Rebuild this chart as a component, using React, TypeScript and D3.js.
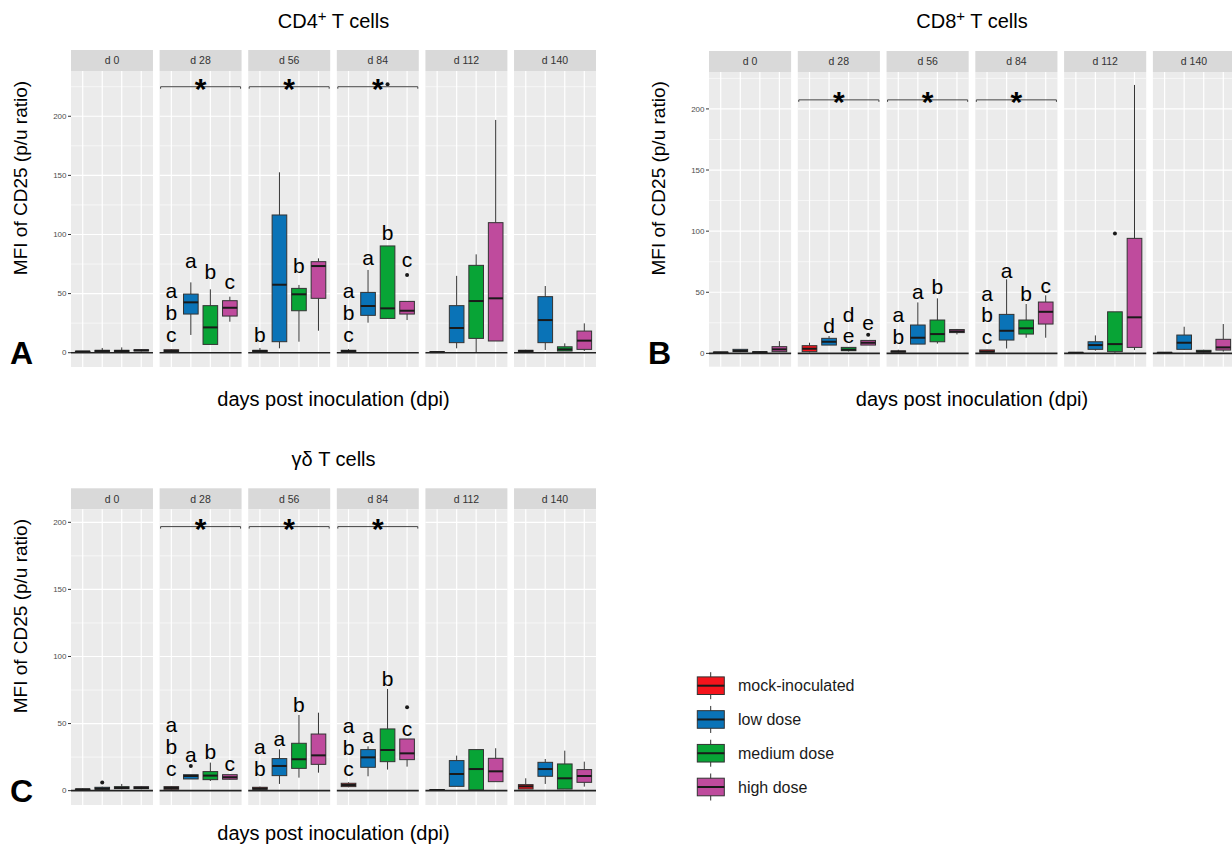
import React from "react";
import * as d3 from "d3";

const width = 1232;
const height = 848;
const font = "Liberation Sans, Arial, sans-serif";

const days = ["d 0", "d 28", "d 56", "d 84", "d 112", "d 140"];
const groups = ["mock-inoculated", "low dose", "medium dose", "high dose"];
const colors = ["#f5141c", "#0a73b7", "#08a436", "#bf4b9d"];
const yTicks = [0, 50, 100, 150, 200];

// [lower whisker, q1, median, q3, upper whisker] per day, per group
const cd4Stats = [
  [[0.5, 0.8, 1, 1.2, 1.5], [0.5, 1, 1.5, 2, 4], [0.5, 1, 1.5, 2, 4.5], [1, 1.5, 2, 2.5, 3]],
  [[0.5, 1, 1.5, 2.5, 3], [15, 32.7, 42.6, 49.6, 59.5], [7, 7, 21.4, 39.8, 53.6], [26.2, 31, 38, 44, 47.4]],
  [[0.5, 1, 1.5, 2, 4], [3.7, 9.3, 57.5, 116.5, 152.6], [9.3, 35.5, 49.4, 54.4, 57.3], [18.6, 46, 73.3, 77, 79.8]],
  [[0.5, 1, 1.5, 2, 3], [25.4, 31.6, 39.5, 51, 70], [29, 29, 37.5, 90.3, 90.3], [27.6, 32.7, 35.5, 43.4, 43.4]],
  [[0, 0.3, 0.5, 0.8, 1], [3.7, 8.5, 20.9, 39.8, 65], [0, 12.1, 43.7, 73.9, 83.2], [9.9, 9.9, 46, 110, 196.9]],
  [[0.5, 1, 1.5, 2, 2.5], [2.3, 8.5, 27.6, 47.4, 56.4], [1.4, 1.4, 2.8, 5, 7.9], [1.4, 2.8, 10.2, 18.3, 24.8]],
];
const cd4Outliers = [[3, 3, 65.7], [3, 2, 227]];
const cd4Letters: [number, number, string, number][] = [
  [1, 0, "a\nb\nc", 9.3], [1, 1, "a", 71.4], [1, 2, "b", 62], [1, 3, "c", 53.6],
  [2, 0, "b", 9.3], [2, 2, "b", 67.1],
  [3, 0, "a\nb\nc", 9.3], [3, 1, "a", 74.2], [3, 2, "b", 95.3], [3, 3, "c", 72.8],
];

const cd8Stats = [
  [[0.3, 0.5, 0.8, 1, 1.2], [1, 1.4, 2, 3.3, 3.5], [0.5, 0.8, 1, 1.2, 1.5], [1, 1.4, 3.3, 5.5, 10]],
  [[0.8, 1.4, 3.8, 6.3, 8.7], [6.8, 6.8, 9.5, 12.3, 14.2], [1.5, 2.2, 3, 4.9, 5.2], [6.8, 6.8, 8.7, 10.6, 10.6]],
  [[0.5, 1, 1.5, 2, 3], [7.6, 7.6, 12.8, 23.2, 41.7], [8, 9.5, 15.8, 27.3, 45], [15.5, 17, 18, 19.5, 20]],
  [[0.5, 1, 1.5, 2.8, 3], [4, 10.9, 18.5, 31.9, 60.6], [12.8, 15.8, 20.5, 27.3, 40.4], [12.8, 24, 34, 42, 47.5]],
  [[0, 0.3, 0.5, 0.8, 1], [2.2, 3.3, 6.8, 9.5, 14.7], [0.5, 1.4, 7.6, 34, 34], [2.7, 4.9, 29.5, 94.1, 219.6]],
  [[0, 0.3, 0.5, 0.8, 1], [2.7, 3.3, 8.7, 15, 21.8], [0.5, 1, 1.5, 2.5, 3], [1.4, 2.7, 4.9, 11.5, 24]],
];
const cd8Outliers = [[1, 3, 15.3], [4, 2, 98]];
const cd8Letters: [number, number, string, number][] = [
  [1, 1, "d", 16.9], [1, 2, "d\ne", 8.2], [1, 3, "e", 19.1],
  [2, 0, "a\nb", 7.6], [2, 1, "a", 44.5], [2, 2, "b", 48.2],
  [3, 0, "a\nb\nc", 7.6], [3, 1, "a", 62], [3, 2, "b", 42.5], [3, 3, "c", 49.1],
];

const gdStats = [
  [[0.5, 0.8, 1, 1.2, 1.5], [0.5, 1, 1.5, 2.5, 3], [1, 1.5, 2, 3, 5], [1, 1.5, 2, 3, 3.5]],
  [[0.5, 1, 2, 3, 3.5], [8.7, 8.7, 10.9, 11.9, 11.9], [7.2, 8.2, 11.2, 14.2, 20.9], [8.2, 8.5, 10, 11.9, 11.9]],
  [[0.5, 1, 1.5, 2.5, 3], [5, 11.2, 18.4, 23.9, 30.8], [9.7, 16.6, 23.4, 35.3, 56.4], [13.4, 19.6, 26.3, 42.2, 58.1]],
  [[2.5, 3, 4.2, 5.5, 6.2], [10.7, 17.4, 24.8, 30.6, 33], [15.7, 21.6, 30.3, 46, 75.8], [17.9, 23.1, 27.8, 38.5, 38.5]],
  [[0, 0.3, 0.5, 0.8, 1], [3.2, 3.2, 12.4, 22.4, 26.1], [0, 0.5, 16.1, 30.6, 30.6], [6.7, 6.7, 14.4, 24.1, 31.6]],
  [[1.2, 1.2, 3.2, 4.5, 9.2], [5, 10.7, 16.1, 21.1, 23.6], [1.2, 1.2, 9.2, 19.9, 29.8], [3, 6.2, 10.9, 15.7, 21.6]],
];
const gdOutliers = [[0, 1, 6], [1, 1, 18.4], [3, 3, 62.1]];
const gdLetters: [number, number, string, number][] = [
  [1, 0, "a\nb\nc", 11.2], [1, 1, "a", 21.6], [1, 2, "b", 23.4], [1, 3, "c", 14.9],
  [2, 0, "a\nb", 10.9], [2, 1, "a", 33.3], [2, 2, "b", 58.9],
  [3, 0, "a\nb\nc", 10.7], [3, 1, "a", 35.5], [3, 2, "b", 78.3], [3, 3, "c", 41],
];

const sigDays = ["d 28", "d 56", "d 84"];

function Chart({ cfg, stats, outliers, letters, sigValue }: any) {
  const fx = d3.scaleBand().domain(days).range([cfg.left, cfg.right]).paddingInner(0.075);
  const pw = fx.bandwidth();
  const x = d3.scaleBand().domain(groups).range([0, pw]).paddingInner(0.25).paddingOuter(0.225);
  const y = d3.scaleLinear().domain(cfg.yDomain).range([cfg.bottom, cfg.top]);
  const bw = x.bandwidth();
  const minor = d3.range(25, cfg.yDomain[1], 50);
  const cx = (i: number) => (x(groups[i]) as number) + bw / 2;
  const mid = (cfg.left + cfg.right) / 2;
  const lineGap = 21.7;

  return (
    <g>
      <text x={mid} y={cfg.titleY} textAnchor="middle" fontSize={20} fontFamily={font}>
        {cfg.title}
        {cfg.sup && (
          <tspan fontSize={15} dy={-7}>
            +
          </tspan>
        )}
        {cfg.sup && <tspan dy={7}> T cells</tspan>}
      </text>
      <text x={mid} y={cfg.xTitleY} textAnchor="middle" fontSize={20} fontFamily={font}>
        days post inoculation (dpi)
      </text>
      <text
        transform={`translate(${cfg.left - 44},${(cfg.top + cfg.bottom) / 2 - 41}) rotate(-90)`}
        textAnchor="middle"
        fontSize={19}
        fontFamily={font}
      >
        MFI of CD25 (p/u ratio)
      </text>
      <text x={cfg.left - 61} y={cfg.bottom - 3} fontSize={32} fontWeight="bold" fontFamily={font}>
        {cfg.letter}
      </text>
      {yTicks.map((t) => (
        <g key={t}>
          <line x1={cfg.left - 3} x2={cfg.left} y1={y(t)} y2={y(t)} stroke="#333" strokeWidth={1} />
          <text x={cfg.left - 4.5} y={y(t) + 2.8} textAnchor="end" fontSize={8} fill="#4d4d4d" fontFamily={font}>
            {t}
          </text>
        </g>
      ))}
      {days.map((d, di) => {
        const px = fx(d) as number;
        return (
          <g key={d} transform={`translate(${px},0)`}>
            <rect x={0} y={cfg.stripTop} width={pw} height={cfg.top - cfg.stripTop} fill="#d9d9d9" />
            <text x={pw / 2} y={cfg.stripTop + 14.3} textAnchor="middle" fontSize={10.5} fill="#333" fontFamily={font}>
              {d}
            </text>
            <rect x={0} y={cfg.top} width={pw} height={cfg.bottom - cfg.top} fill="#ebebeb" />
            {minor.map((t) => (
              <line key={t} x1={0} x2={pw} y1={y(t)} y2={y(t)} stroke="#fff" strokeWidth={0.6} />
            ))}
            {yTicks.map((t) => (
              <line key={t} x1={0} x2={pw} y1={y(t)} y2={y(t)} stroke="#fff" strokeWidth={1.2} />
            ))}
            {groups.map((g, gi) => (
              <line key={g} x1={cx(gi)} x2={cx(gi)} y1={cfg.top} y2={cfg.bottom} stroke="#fff" strokeWidth={1.2} />
            ))}
            {stats[di].map((s: number[], gi: number) => {
              const [lo, q1, md, q3, hi] = s;
              const x0 = x(groups[gi]) as number;
              return (
                <g key={gi}>
                  <line x1={cx(gi)} x2={cx(gi)} y1={y(hi)} y2={y(q3)} stroke="#333" strokeWidth={1} />
                  <line x1={cx(gi)} x2={cx(gi)} y1={y(q1)} y2={y(lo)} stroke="#333" strokeWidth={1} />
                  <rect
                    x={x0}
                    y={y(q3)}
                    width={bw}
                    height={Math.max(y(q1) - y(q3), 0.5)}
                    fill={colors[gi]}
                    stroke="#333"
                    strokeWidth={1}
                  />
                  <line x1={x0} x2={x0 + bw} y1={y(md)} y2={y(md)} stroke="#1a1a1a" strokeWidth={2} />
                </g>
              );
            })}
            {outliers
              .filter((o: number[]) => o[0] === di)
              .map((o: number[], i: number) => (
                <circle key={i} cx={cx(o[1])} cy={y(o[2])} r={2} fill="#1a1a1a" />
              ))}
            <line x1={0} x2={pw} y1={y(0)} y2={y(0)} stroke="#222" strokeWidth={1.6} />
            {letters
              .filter((l: any) => l[0] === di)
              .map((l: any, i: number) => {
                const lines = l[2].split("\n");
                const y0 = y(l[3]) - (lines.length - 1) * lineGap;
                return (
                  <text key={i} x={cx(l[1])} y={y0} textAnchor="middle" fontSize={21} fontFamily={font}>
                    {lines.map((t: string, k: number) => (
                      <tspan key={k} x={cx(l[1])} dy={k === 0 ? 0 : lineGap}>
                        {t}
                      </tspan>
                    ))}
                  </text>
                );
              })}
            {sigDays.includes(d) && (
              <g>
                <path
                  d={`M1,${y(sigValue) + 2}V${y(sigValue)}H${pw - 1}V${y(sigValue) + 2}`}
                  fill="none"
                  stroke="#444"
                  strokeWidth={1}
                />
                <text x={pw / 2} y={y(sigValue) + 12} textAnchor="middle" fontSize={30} fontWeight="bold" fontFamily={font}>
                  *
                </text>
              </g>
            )}
          </g>
        );
      })}
    </g>
  );
}

const cfgA = { left: 71, right: 596, stripTop: 50, top: 71, bottom: 367, yDomain: [-12.1, 238.3], title: "CD4", sup: true, titleY: 28, xTitleY: 406, letter: "A" };
const cfgB = { left: 709, right: 1235, stripTop: 51, top: 72, bottom: 366.7, yDomain: [-10.9, 230.2], title: "CD8", sup: true, titleY: 28, xTitleY: 406, letter: "B" };
const cfgC = { left: 71, right: 596, stripTop: 488.3, top: 509.3, bottom: 805, yDomain: [-10.7, 209.7], title: "γδ T cells", sup: false, titleY: 466, xTitleY: 840, letter: "C" };

function Legend() {
  const row = d3.scalePoint().domain(groups).range([685.7, 787]);
  return (
    <g>
      {groups.map((g, i) => {
        const cy = row(g) as number;
        return (
          <g key={g}>
            <line x1={710.7} x2={710.7} y1={cy - 13.5} y2={cy + 13.5} stroke="#333" strokeWidth={1} />
            <rect x={697.3} y={cy - 8.8} width={27} height={17.6} fill={colors[i]} stroke="#333" strokeWidth={1} />
            <line x1={697.3} x2={724.3} y1={cy} y2={cy} stroke="#1a1a1a" strokeWidth={2} />
            <text x={738} y={cy + 5.7} fontSize={16} fill="#1a1a1a" fontFamily={font}>
              {g}
            </text>
          </g>
        );
      })}
    </g>
  );
}

export default function App() {
  return (
    <svg width={width} height={height} style={{ position: "absolute", left: 0, top: 0, background: "#fff" }}>
      <Chart cfg={cfgA} stats={cd4Stats} outliers={cd4Outliers} letters={cd4Letters} sigValue={225} />
      <Chart cfg={cfgB} stats={cd8Stats} outliers={cd8Outliers} letters={cd8Letters} sigValue={207.4} />
      <Chart cfg={cfgC} stats={gdStats} outliers={gdOutliers} letters={gdLetters} sigValue={196.8} />
      <Legend />
    </svg>
  );
}
